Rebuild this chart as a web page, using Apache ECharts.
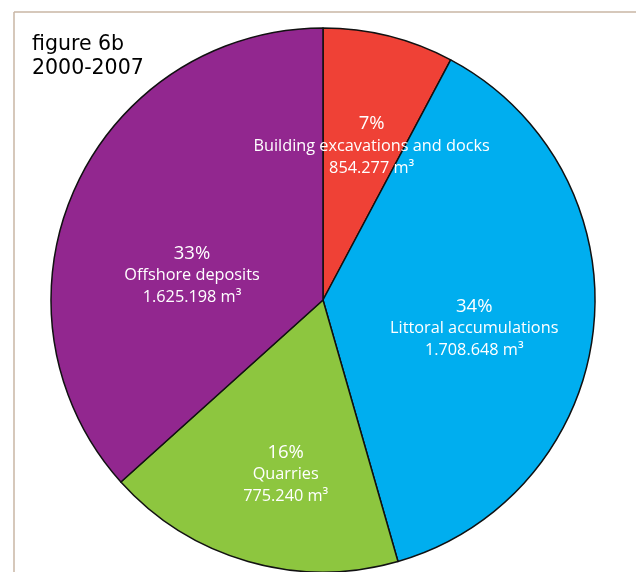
<!DOCTYPE html>
<html>
<head>
<meta charset="utf-8">
<script src="https://cdn.jsdelivr.net/npm/echarts@6/dist/echarts.min.js"></script>
<style>
html,body{margin:0;padding:0;background:#fff;}
#chart{width:636px;height:572px;}
</style>
</head>
<body>
<div id="chart"></div>
<script>
// Data
var categories = ['Building excavations and docks', 'Littoral accumulations', 'Quarries', 'Offshore deposits'];
var percentages = [7, 34, 16, 33];
var volumes = ['854.277', '1.708.648', '775.240', '1.625.198'];
var colors = ['#ef4136', '#00aeef', '#8dc63f', '#92278f'];
var titleLines = ['figure 6b', '2000-2007'];

// Label nudges (style only)
var labelShift = [[15, -19], [13, 14], [1, 41], [-4, 32]];

var chart = echarts.init(document.getElementById('chart'), null, {renderer: 'canvas'});
var pieData = categories.map(function (c, i) {
  return { name: c, value: percentages[i], itemStyle: { color: colors[i] } };
});

chart.setOption({
  backgroundColor: '#ffffff',
  animation: false,
  graphic: [
    { type: 'line', shape: { x1: 14, y1: 12, x2: 636, y2: 12 }, style: { stroke: '#c8b6a4', lineWidth: 1.5 } },
    { type: 'line', shape: { x1: 14, y1: 12, x2: 14, y2: 572 }, style: { stroke: '#c8b6a4', lineWidth: 1.5 } },
    { type: 'text', left: 32, top: 33, style: { text: titleLines.join('\n'), fill: '#000', font: '20.5px "DejaVu Sans"', lineHeight: 24 } }
  ],
  series: [{
    type: 'pie',
    center: [323, 300],
    radius: [0, 272],
    startAngle: 90,
    clockwise: true,
    data: pieData,
    itemStyle: { borderColor: '#111', borderWidth: 1.5 },
    labelLine: { show: false },
    label: {
      show: true,
      position: 'inside',
      color: '#fff',
      formatter: function (p) {
        return '{p|' + p.value + '%}\n{n|' + p.name + '}\n{v|' + volumes[p.dataIndex] + ' m³}';
      },
      rich: {
        p: { fontFamily: 'Open Sans', fontSize: 18.5, color: '#fff', lineHeight: 22, align: 'center' },
        n: { fontFamily: 'Open Sans', fontSize: 16.3, color: '#fff', lineHeight: 22, align: 'center' },
        v: { fontFamily: 'Open Sans', fontSize: 16.3, color: '#fff', lineHeight: 22, align: 'center' }
      }
    },
    labelLayout: function (params) {
      var s = labelShift[params.dataIndex];
      return { dx: s[0], dy: s[1] };
    }
  }]
});
</script>
</body>
</html>
